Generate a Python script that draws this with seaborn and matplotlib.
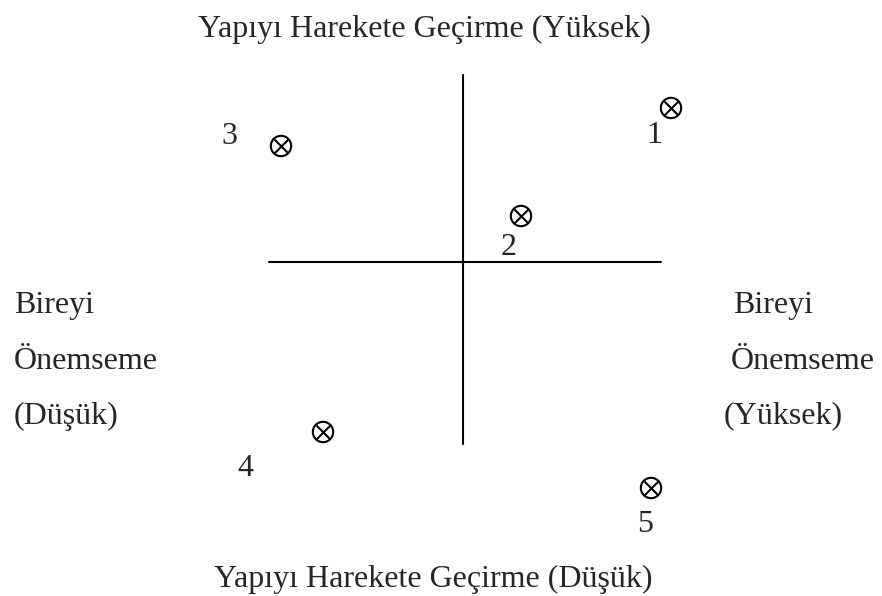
import numpy as np
import pandas as pd
import matplotlib
matplotlib.use("Agg")
import matplotlib.pyplot as plt
import seaborn as sns

# positions of the five cases on the two dimensions (centre = 0,0)
labels = ["1", "2", "3", "4", "5"]
x_vals = [5.2, 1.45, -4.55, -3.5, 4.7]
y_vals = [3.85, 1.15, 2.9, -4.25, -5.65]

top_title = "Yapıyı Harekete Geçirme (Yüksek)"
bottom_title = "Yapıyı Harekete Geçirme (Düşük)"
left_lines = ["Bireyi", "Önemseme", "(Düşük)"]
right_lines = ["Bireyi", "Önemseme", "(Yüksek)"]

# offsets (points) of the number labels from their markers
label_offsets = [(-12, -20), (-9, -23), (-37, 7), (-56, -26), (-4, -26)]

sns.set_style("white")
plt.rcParams["font.family"] = ["Liberation Serif", "DejaVu Serif"]

df = pd.DataFrame({"x": x_vals, "y": y_vals, "label": labels})

fig = plt.figure(figsize=(8.82, 5.96), dpi=100)
ax = fig.add_axes([0, 0, 1, 1])

# cross axes
ax.plot([-4.85, 4.95], [0, 0], color="black", lw=1.5)
ax.plot([0, 0], [-4.55, 4.675], color="black", lw=1.5)

sns.scatterplot(data=df, x="x", y="y", ax=ax, marker="o", s=215,
                facecolor="none", edgecolor="black", linewidth=1.5, legend=False)
sns.scatterplot(data=df, x="x", y="y", ax=ax, marker="x", s=100,
                color="black", linewidth=1.5, legend=False)

fs = 23
for (lab, xv, yv), off in zip(zip(labels, x_vals, y_vals), label_offsets):
    ax.annotate(lab, (xv, yv), xytext=off, textcoords="offset points",
                ha="center", va="center", fontsize=fs)

ax.set_xlim(-11.575, 10.475)
ax.set_ylim(-8.35, 6.55)
ax.axis("off")

ax.text(0.481, 0.950, top_title, transform=ax.transAxes, ha="center",
        va="center", fontsize=fs)
ax.text(0.491, 0.027, bottom_title, transform=ax.transAxes, ha="center",
        va="center", fontsize=fs)
for t, yy in zip(left_lines, [0.488, 0.394, 0.302]):
    ax.text(0.016, yy, t, transform=ax.transAxes, ha="left", va="center",
            fontsize=fs)
for t, xx, yy in zip(right_lines, [0.831, 0.829, 0.820], [0.488, 0.394, 0.302]):
    ax.text(xx, yy, t, transform=ax.transAxes, ha="left", va="center",
            fontsize=fs)

fig.savefig("out.png", dpi=100)
